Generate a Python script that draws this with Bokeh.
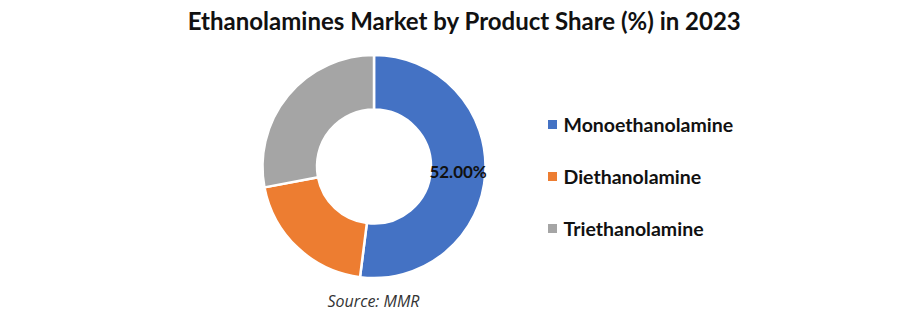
import numpy as np
from bokeh.plotting import figure
from bokeh.models import Range1d, ColumnDataSource
from bokeh.core.properties import value
from bokeh.embed import file_html
from bokeh.resources import INLINE

categories = ["Monoethanolamine", "Diethanolamine", "Triethanolamine"]
shares = [52.0, 20.0, 28.0]
colors = ["#4472C4", "#ED7D31", "#A5A5A5"]
labels = ["52.00%", "", ""]
title_text = "Ethanolamines  Market by Product Share (%) in 2023"
source_text = "Source: MMR"

W, H = 909, 319
p = figure(width=W, height=H, output_backend="svg", toolbar_location=None,
           x_range=Range1d(0, W), y_range=Range1d(0, H), min_border=0)
p.axis.visible = False
p.grid.visible = False
p.outline_line_color = None
p.background_fill_color = "white"
p.border_fill_color = "white"

cx, cy = 373.5, H - 166
r_out, r_in = 111.5, 57

vals = np.array(shares)
frac = vals / vals.sum()
cum = np.concatenate([[0], np.cumsum(frac)])
start = np.pi / 2 - cum[:-1] * 2 * np.pi
end = np.pi / 2 - cum[1:] * 2 * np.pi
src = ColumnDataSource(dict(start=start, end=end, color=colors, cat=categories))
p.annular_wedge(x=cx, y=cy, inner_radius=r_in, outer_radius=r_out,
                start_angle="start", end_angle="end", direction="clock",
                fill_color="color", line_color="white", line_width=2.5, source=src)

mid = (start + end) / 2
rm = (r_in + r_out) / 2
lx = cx + rm * np.cos(mid)
ly = cy + rm * np.sin(mid)
p.text(x=lx, y=ly, text=labels, text_align="center", text_baseline="middle",
       text_font=value("Lato"), text_font_style="bold", text_font_size="17px",
       text_color="#111111")

# title
p.text(x=[467], y=[H - 20], text=[title_text], text_align="center", text_baseline="middle",
       text_font=value("Lato"), text_font_style="bold", text_font_size="24px",
       text_color="#111111")

# legend
ly_leg = H - np.array([124, 176, 228])
p.scatter(x=[552] * 3, y=ly_leg, marker="square", size=9, fill_color=colors, line_color=None)
p.text(x=[563] * 3, y=ly_leg, text=categories, text_align="left", text_baseline="middle",
       text_font=value("Lato"), text_font_style="bold", text_font_size="19.5px",
       text_color="#111111")

# source
p.text(x=[373], y=[H - 300], text=[source_text], text_align="center", text_baseline="middle",
       text_font=value("Open Sans"), text_font_style="italic", text_font_size="16px",
       text_color="#333333")

open("out.html", "w").write(file_html(p, INLINE))
